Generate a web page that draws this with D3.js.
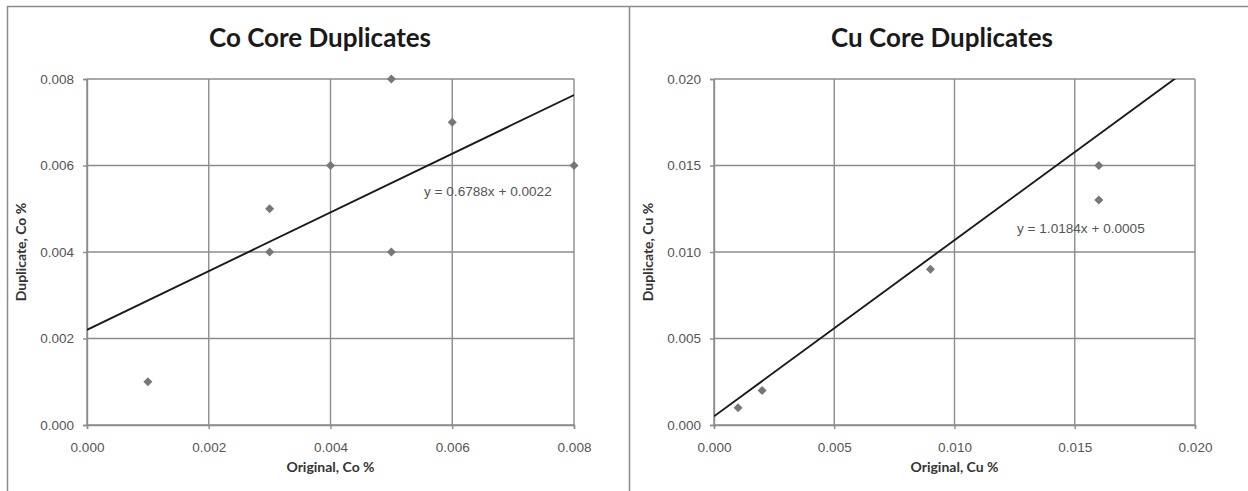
<!DOCTYPE html>
<html>
<head>
<meta charset="utf-8">
<script src="https://cdn.jsdelivr.net/npm/d3@7"></script>
<style>
  html, body { margin: 0; padding: 0; background: #ffffff; }
  svg { display: block; }
</style>
</head>
<body>
<svg id="chart" width="1248" height="491"></svg>
<script>
// Co duplicate pairs (original, duplicate)
const coOriginal  = [0.001, 0.003, 0.003, 0.004, 0.005, 0.005, 0.006, 0.008];
const coDuplicate = [0.001, 0.005, 0.004, 0.006, 0.008, 0.004, 0.007, 0.006];
const coTicks = [0, 0.002, 0.004, 0.006, 0.008];
const coFit = { slope: 0.6788, intercept: 0.0022 };

// Cu duplicate pairs (original, duplicate)
const cuOriginal  = [0.001, 0.002, 0.009, 0.016, 0.016];
const cuDuplicate = [0.001, 0.002, 0.009, 0.015, 0.013];
const cuTicks = [0, 0.005, 0.010, 0.015, 0.020];
const cuFit = { slope: 1.0184, intercept: 0.0005 };

const svg = d3.select("#chart");
const fmt = d3.format(".3f");
const FONT = "Lato, 'Open Sans', sans-serif";
const TICK_FONT = "'Liberation Sans', Arial, sans-serif";

// Outer frames
svg.append("path")
  .attr("d", "M7.5,500 V6.5 H1250 M629.5,6.5 V500")
  .attr("fill", "none")
  .attr("stroke", "#8a8a8a")
  .attr("stroke-width", 1.5);

function panel(cfg) {
  const { left, right, top, bottom } = cfg.plot;
  const x = d3.scaleLinear().domain(cfg.domain).range([left, right]);
  const y = d3.scaleLinear().domain(cfg.domain).range([bottom, top]);
  const g = svg.append("g");

  // Title
  g.append("text")
    .attr("x", cfg.titleX).attr("y", 47)
    .attr("text-anchor", "middle")
    .attr("font-family", FONT).attr("font-weight", "bold")
    .attr("font-size", 26).attr("fill", "#1a1a1a")
    .text(cfg.title);

  // Gridlines
  const grid = g.append("g").attr("stroke", "#8c8c8c").attr("stroke-width", 1.4);
  grid.selectAll("line.h").data(cfg.ticks).join("line")
    .attr("x1", left).attr("x2", right)
    .attr("y1", d => y(d)).attr("y2", d => y(d));
  grid.selectAll("line.v").data(cfg.ticks).join("line")
    .attr("y1", top).attr("y2", bottom)
    .attr("x1", d => x(d)).attr("x2", d => x(d));

  // Axes
  const xAxis = g.append("g")
    .attr("transform", `translate(0,${bottom})`)
    .call(d3.axisBottom(x).tickValues(cfg.ticks).tickFormat(fmt).tickSize(4).tickPadding(13));
  const yAxis = g.append("g")
    .attr("transform", `translate(${left},0)`)
    .call(d3.axisLeft(y).tickValues(cfg.ticks).tickFormat(fmt).tickSize(4).tickPadding(9));
  [xAxis, yAxis].forEach(a => {
    a.select(".domain").attr("stroke", "#8c8c8c").attr("stroke-width", 1.4);
    a.selectAll(".tick line").attr("stroke", "#8c8c8c").attr("stroke-width", 1.4);
    a.selectAll(".tick text")
      .attr("font-family", TICK_FONT)
      .attr("font-size", 13.5).attr("fill", "#555");
  });

  // Axis titles
  g.append("text")
    .attr("x", (left + right) / 2).attr("y", 472)
    .attr("text-anchor", "middle")
    .attr("font-family", FONT).attr("font-weight", "bold")
    .attr("font-size", 14).attr("fill", "#333")
    .text(cfg.xLabel);
  g.append("text")
    .attr("transform", `translate(${left - 61},${(top + bottom) / 2}) rotate(-90)`)
    .attr("text-anchor", "middle")
    .attr("font-family", FONT).attr("font-weight", "bold")
    .attr("font-size", 14).attr("fill", "#333")
    .text(cfg.yLabel);

  // Linear trendline, clipped to the plot area
  const clipId = "clip-" + cfg.id;
  svg.append("clipPath").attr("id", clipId)
    .append("rect").attr("x", left).attr("y", top)
    .attr("width", right - left).attr("height", bottom - top);
  const xs = cfg.domain;
  g.append("line")
    .attr("clip-path", `url(#${clipId})`)
    .attr("x1", x(xs[0])).attr("y1", y(cfg.fit.slope * xs[0] + cfg.fit.intercept))
    .attr("x2", x(xs[1])).attr("y2", y(cfg.fit.slope * xs[1] + cfg.fit.intercept))
    .attr("stroke", "#1a1a1a").attr("stroke-width", 1.9);

  // Data markers
  const pts = cfg.xs.map((v, i) => [v, cfg.ys[i]]);
  g.selectAll("path.pt").data(pts).join("path")
    .attr("d", d3.symbol(d3.symbolDiamond2, 52))
    .attr("transform", d => `translate(${x(d[0])},${y(d[1])})`)
    .attr("fill", "#777");

  // Fit equation
  g.append("text")
    .attr("x", cfg.eqPos[0]).attr("y", cfg.eqPos[1])
    .attr("font-family", TICK_FONT)
    .attr("font-size", 13.6).attr("fill", "#555")
    .text(`y = ${cfg.fit.slope.toFixed(4)}x + ${cfg.fit.intercept.toFixed(4)}`);
}

panel({
  id: "co",
  title: "Co Core Duplicates",
  titleX: 320,
  plot: { left: 87, right: 574, top: 79, bottom: 425 },
  domain: [0, 0.008],
  ticks: coTicks,
  xs: coOriginal, ys: coDuplicate,
  fit: coFit,
  xLabel: "Original, Co %",
  yLabel: "Duplicate, Co %",
  eqPos: [424, 196]
});

panel({
  id: "cu",
  title: "Cu Core Duplicates",
  titleX: 942,
  plot: { left: 714, right: 1195, top: 79, bottom: 425 },
  domain: [0, 0.020],
  ticks: cuTicks,
  xs: cuOriginal, ys: cuDuplicate,
  fit: cuFit,
  xLabel: "Original, Cu %",
  yLabel: "Duplicate, Cu %",
  eqPos: [1017, 233]
});
</script>
</body>
</html>
